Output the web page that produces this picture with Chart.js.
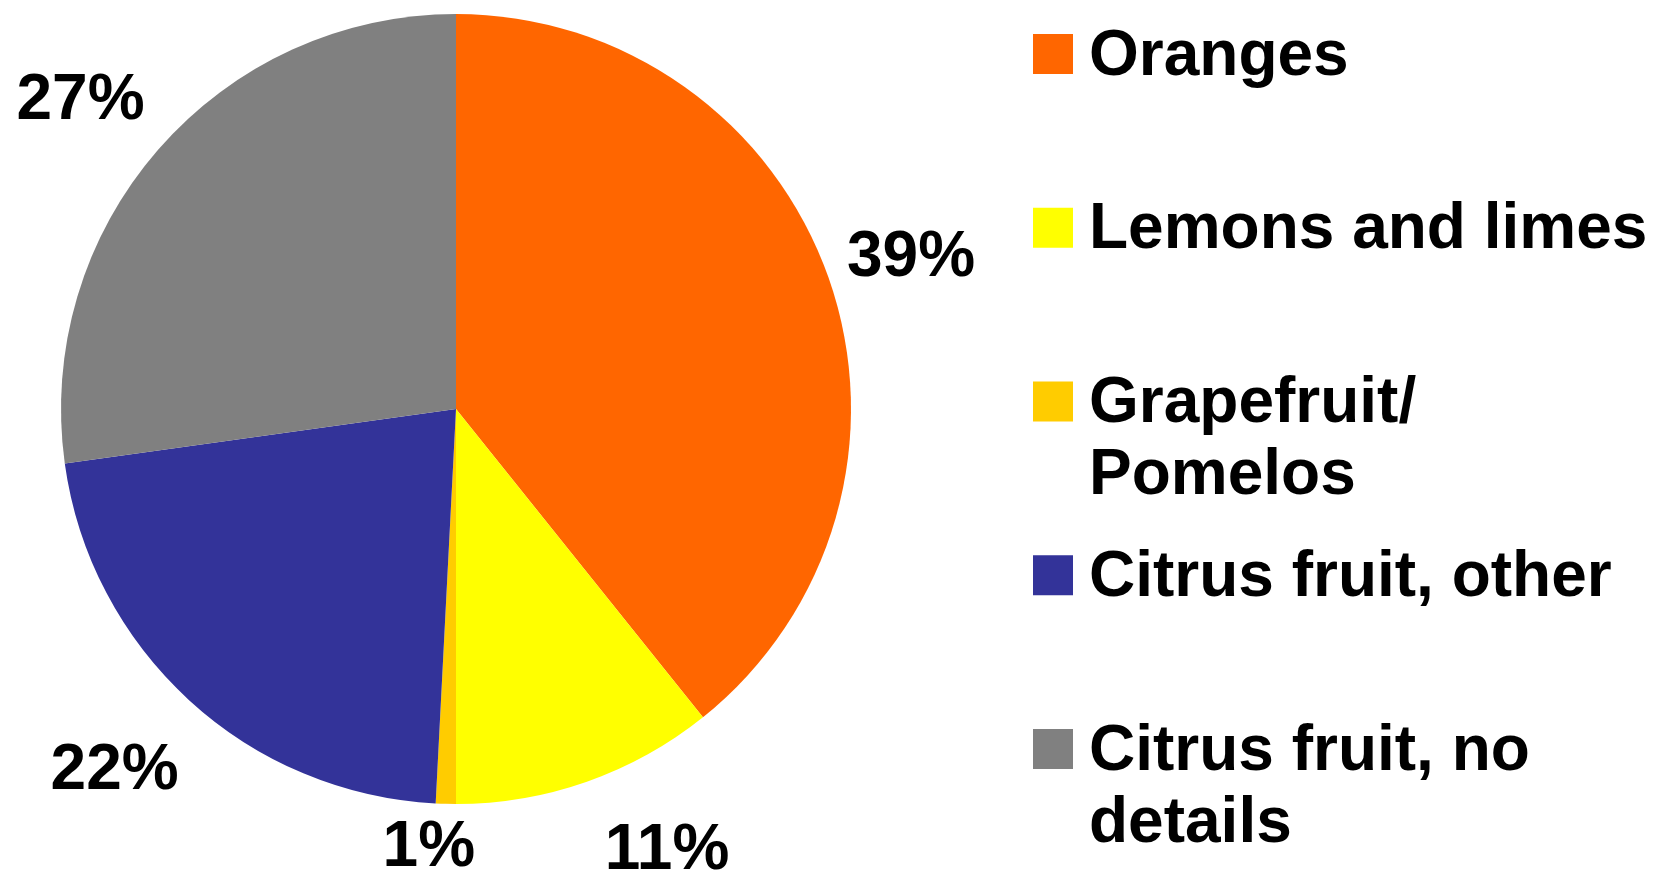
<!DOCTYPE html>
<html>
<head>
<meta charset="utf-8">
<script src="https://cdn.jsdelivr.net/npm/chart.js@4.4.1/dist/chart.umd.min.js"></script>
<style>
  html, body { margin: 0; padding: 0; background: #ffffff; }
  #wrap { width: 1653px; height: 872px; position: relative; }
  canvas { display: block; }
</style>
</head>
<body>
<div id="wrap"><canvas id="c" width="1653" height="872" style="width:1653px;height:872px"></canvas></div>
<script>
// ---- data ----
const categories = ["Oranges", "Lemons and limes", "Grapefruit/ Pomelos", "Citrus fruit, other", "Citrus fruit, no details"];
const legendLines = [["Oranges"], ["Lemons and limes"], ["Grapefruit/", "Pomelos"], ["Citrus fruit, other"], ["Citrus fruit, no", "details"]];
const shares = [39.25, 10.75, 0.82, 21.98, 27.2];
const sliceColors = ["#FF6600", "#FFFF00", "#FFCC00", "#333399", "#808080"];

const FONT = "bold 64px 'Liberation Sans', Arial, Helvetica, sans-serif";

// per-slice label placement (extra distance beyond the rim, angular nudge in degrees)
const labelPlacement = [
  { extra: 86, rot: 0.45 },
  { extra: 90, rot: -6.45 },
  { extra: 40, rot: 2.1 },
  { extra: 99, rot: 1.2 },
  { extra: 94, rot: -1.2 }
];

const percentLabelsPlugin = {
  id: 'percentLabels',
  afterDatasetsDraw(chart) {
    const ctx = chart.ctx;
    const meta = chart.getDatasetMeta(0);
    const data = chart.data.datasets[0].data;
    const total = data.reduce((a, b) => a + b, 0);
    ctx.save();
    ctx.font = FONT;
    ctx.fillStyle = '#000000';
    ctx.textAlign = 'center';
    ctx.textBaseline = 'alphabetic';
    meta.data.forEach((arc, i) => {
      const p = arc.getProps(['x', 'y', 'startAngle', 'endAngle', 'outerRadius'], true);
      const pl = labelPlacement[i];
      const mid = (p.startAngle + p.endAngle) / 2 + pl.rot * Math.PI / 180;
      const d = p.outerRadius + pl.extra;
      const cx = p.x + Math.cos(mid) * d;
      const cy = p.y + Math.sin(mid) * d;
      const txt = Math.round(data[i] / total * 100) + '%';
      ctx.fillText(txt, cx, cy + 23);
    });
    ctx.restore();
  }
};

const sideLegendPlugin = {
  id: 'sideLegend',
  afterDraw(chart) {
    const ctx = chart.ctx;
    const colors = chart.data.datasets[0].backgroundColor;
    const boxX = 1033, boxSize = 40, textX = 1089, top0 = 34, step = 173.75, lineH = 72;
    ctx.save();
    ctx.font = FONT;
    ctx.textAlign = 'left';
    ctx.textBaseline = 'alphabetic';
    legendLines.forEach((lines, i) => {
      const top = top0 + i * step;
      ctx.fillStyle = colors[i];
      ctx.fillRect(boxX, top, boxSize, boxSize);
      ctx.fillStyle = '#000000';
      lines.forEach((ln, j) => {
        ctx.fillText(ln, textX, top + 40.5 + j * lineH);
      });
    });
    ctx.restore();
  }
};

new Chart(document.getElementById('c'), {
  type: 'pie',
  data: {
    labels: categories,
    datasets: [{
      data: shares,
      backgroundColor: sliceColors,
      borderWidth: 0,
      hoverOffset: 0
    }]
  },
  options: {
    responsive: false,
    animation: false,
    events: [],
    layout: { padding: { left: 61, top: 14, right: 802, bottom: 68 } },
    plugins: {
      legend: { display: false },
      tooltip: { enabled: false },
      title: { display: false }
    }
  },
  plugins: [percentLabelsPlugin, sideLegendPlugin]
});
</script>
</body>
</html>
